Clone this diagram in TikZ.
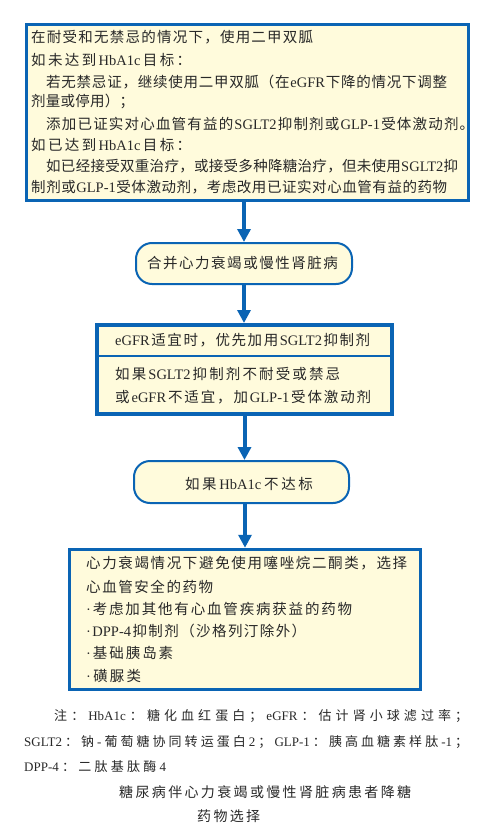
\documentclass[tikz,border=0pt]{standalone}
\usepackage{fontspec}
\usetikzlibrary{arrows.meta}
\newfontfamily\cjk{Noto Sans CJK SC}
\newfontfamily\lat{Liberation Serif}
\definecolor{fbblue}{RGB}{10,100,180}
\definecolor{fbfill}{RGB}{255,251,220}
\definecolor{fbtext}{RGB}{40,40,40}
\makeatletter
\def\spr@end{\spr@end@mark}
\def\spr#1#2{\hbox to #1{\spr@a#2\spr@end}}
\def\spr@a#1{{#1}\spr@b}
\def\spr@b#1{\ifx\spr@end#1\else\hfil{#1}\expandafter\spr@b\fi}
\makeatother
\begin{document}
\begin{tikzpicture}[x=1pt,y=-1pt,
  font=\cjk\fontsize{14.5pt}{17pt}\selectfont, text=fbtext,
  box/.style={draw=fbblue, fill=fbfill, line width=3pt, inner sep=0pt},
  rbox/.style={draw=fbblue, fill=fbfill, line width=2pt, inner sep=0pt, rounded corners=16pt},
  txt/.style={anchor=west, inner sep=0pt},
  notetxt/.style={anchor=west, inner sep=0pt, font=\cjk\fontsize{13pt}{15pt}\selectfont},
  captxt/.style={anchor=west, inner sep=0pt, font=\cjk\fontsize{14pt}{16pt}\selectfont},
  arr/.style={draw=fbblue, line width=4pt, -{Triangle[width=13pt,length=13pt]}}]
\useasboundingbox (0,0) rectangle (488,840);

% box 1
\node[box, minimum width=442pt, minimum height=176pt] (b1) at (247.5,112.5) {};
\node[txt] (l1) at (31,37.3) {\spr{282pt}{在耐受和无禁忌的情况下，使用二甲双胍}};
\node[txt] (l2) at (31,60) {\spr{160pt}{如未达到{\lat HbA1c}目标：}};
\node[txt] (l3) at (46,81.7) {\spr{401pt}{若无禁忌证，继续使用二甲双胍（在{\lat eGFR}下降的情况下调整}};
\node[txt] (l4) at (31,101.7) {\spr{103pt}{剂量或停用）；}};
\node[txt] (l5) at (46,124) {\spr{428pt}{添加已证实对心血管有益的{\lat SGLT2}抑制剂或{\lat GLP-1}受体激动剂。}};
\node[txt] (l6) at (31,145) {\spr{160pt}{如已达到{\lat HbA1c}目标：}};
\node[txt] (l7) at (46,165.7) {\spr{412pt}{如已经接受双重治疗，或接受多种降糖治疗，但未使用{\lat SGLT2}抑}};
\node[txt] (l8) at (31,186.7) {\spr{416pt}{制剂或{\lat GLP-1}受体激动剂，考虑改用已证实对心血管有益的药物}};

% rounded box 1
\node[rbox, minimum width=216pt, minimum height=41pt] (r1) at (244,263.5) {};
\node[inner sep=0pt] (r1t) at (242.5,263.5) {\spr{191pt}{合并心力衰竭或慢性肾脏病}};

% box 2
\node[box, line width=4pt, minimum width=295pt, minimum height=89pt] (b2) at (244.5,369.5) {};
\draw[fbblue, line width=2pt] (97,356) -- (392,356);
\node[txt] (m1) at (115,340) {\spr{255pt}{{\lat eGFR}适宜时，优先加用{\lat SGLT2}抑制剂}};
\node[txt] (m2) at (115,374) {\spr{225pt}{如果{\lat SGLT2}抑制剂不耐受或禁忌}};
\node[txt] (m3) at (115,397) {\spr{256pt}{或{\lat eGFR}不适宜，加{\lat GLP-1}受体激动剂}};

% rounded box 2
\node[rbox, minimum width=215pt, minimum height=42pt] (r2) at (241.5,482) {};
\node[inner sep=0pt] (r2t) at (249,484) {\spr{128pt}{如果{\lat HbA1c}不达标}};

% box 3
\node[box, line width=3.5pt, minimum width=351pt, minimum height=140pt] (b3) at (245,619.5) {};
\node[txt] (k1) at (86,563) {\spr{321pt}{心力衰竭情况下避免使用噻唑烷二酮类，选择}};
\node[txt] (k2) at (86,587) {\spr{127pt}{心血管安全的药物}};
\node[txt] (k3) at (86,609) {\spr{266pt}{{\lat ·}考虑加其他有心血管疾病获益的药物}};
\node[txt] (k4) at (86,631) {\spr{220pt}{{\lat ·}{\lat DPP-4}抑制剂（沙格列汀除外）}};
\node[txt] (k5) at (86,653) {\spr{87pt}{{\lat ·}基础胰岛素}};
\node[txt] (k6) at (86,676) {\spr{55pt}{{\lat ·}磺脲类}};

% arrows
\draw[arr] (b1.south -| r1.north) -- (r1.north);
\draw[arr] (r1.south) -- (r1.south |- b2.north);
\draw[arr] (b2.south) -- (b2.south |- r2.north);
\draw[arr] (r2.south -| b3.north) -- (b3.north);

% notes
\node[notetxt] (n1) at (54,716) {\spr{414pt}{注：{\lat HbA1c}：糖化血红蛋白；{\lat eGFR}：估计肾小球滤过率；}};
\node[notetxt] (n2) at (24,742) {\spr{444pt}{{\lat SGLT2}：钠{\lat -}葡萄糖协同转运蛋白{\lat 2}；{\lat GLP-1}：胰高血糖素样肽{\lat -1}；}};
\node[notetxt] (n3) at (24,767) {\spr{142pt}{{\lat DPP-4}：二肽基肽酶{\lat 4}}};

% caption
\node[captxt] (c1) at (119,792) {\spr{292pt}{糖尿病伴心力衰竭或慢性肾脏病患者降糖}};
\node[captxt] (c2) at (197,816) {\spr{63pt}{药物选择}};
\end{tikzpicture}
\end{document}
